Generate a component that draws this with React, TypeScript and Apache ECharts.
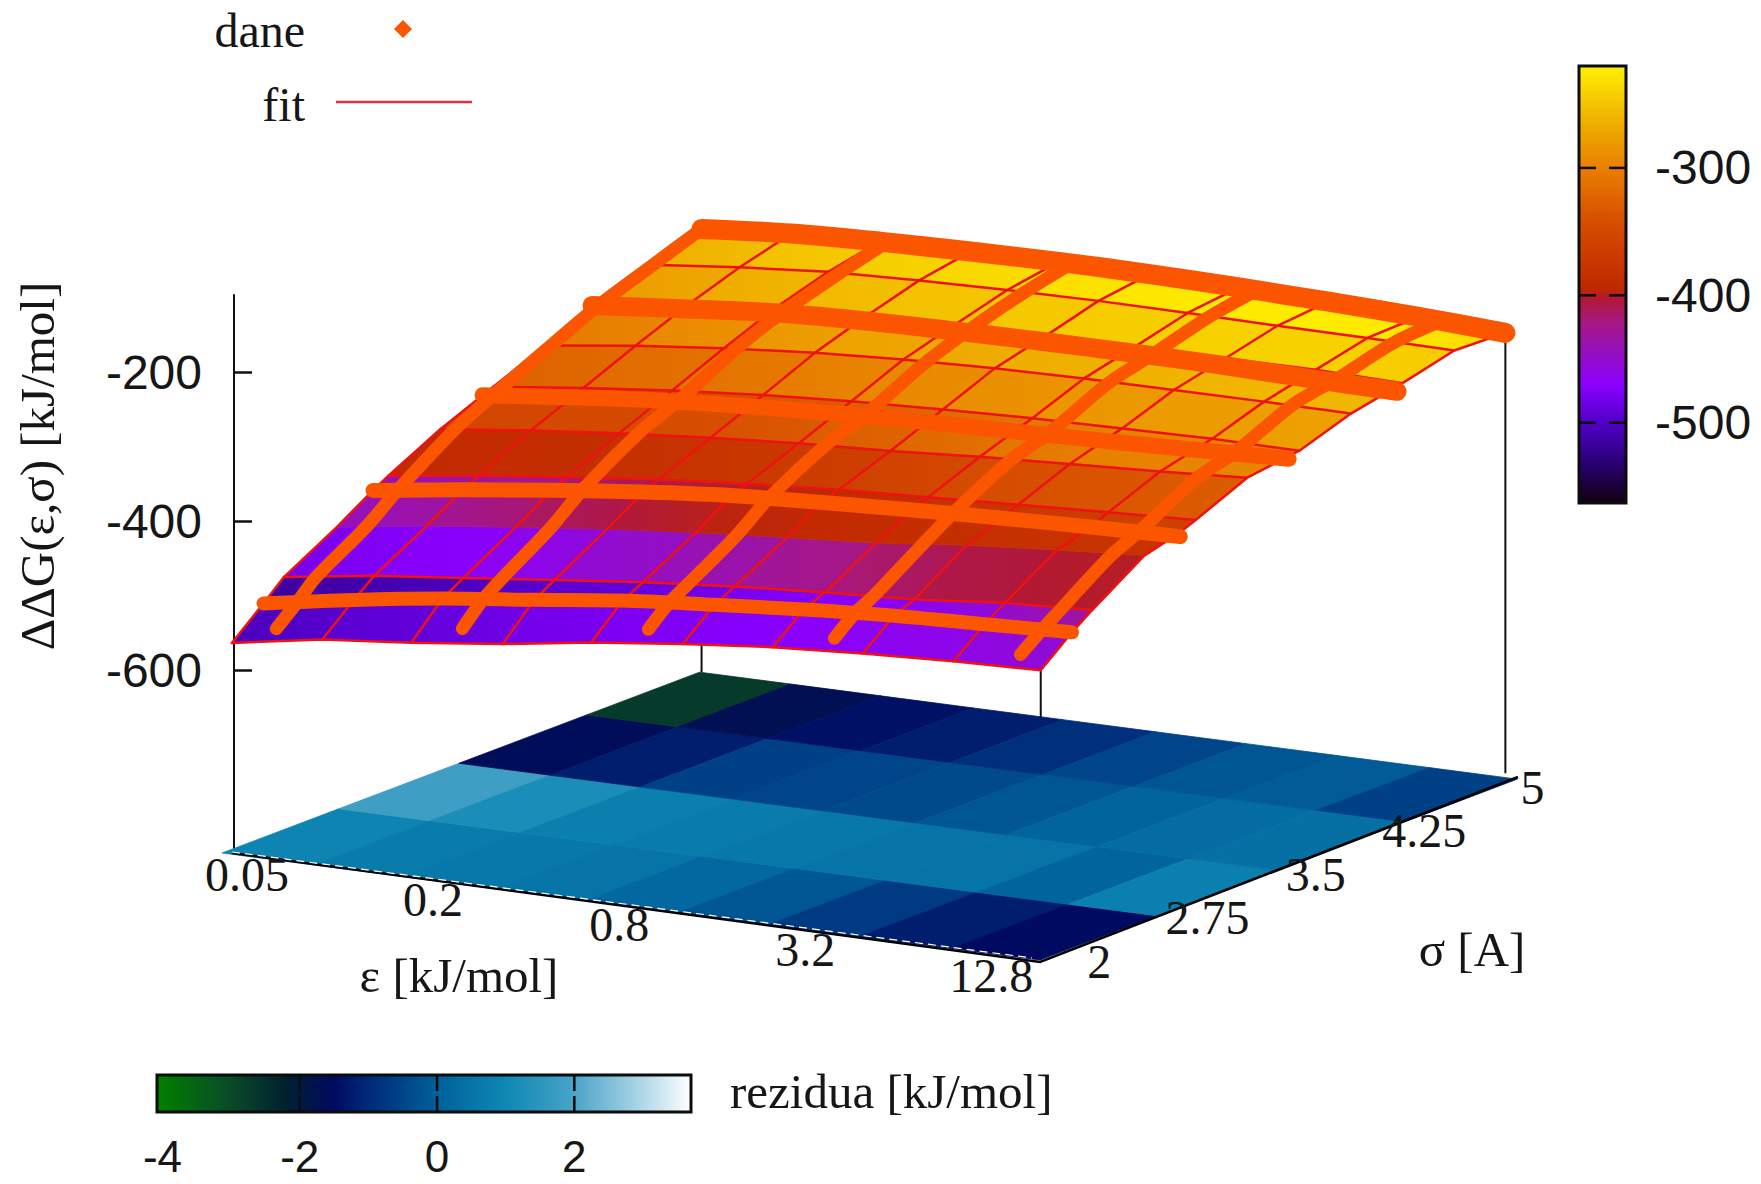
import React, { useEffect, useRef } from "react";
import * as echarts from "echarts";

// ---------- data ----------
const epsTicks = [0.05, 0.2, 0.8, 3.2, 12.8];
const epsTickLabels = ["0.05", "0.2", "0.8", "3.2", "12.8"];
const sigmaTicks = [2, 2.75, 3.5, 4.25, 5];
const sigmaTickLabels = ["2", "2.75", "3.5", "4.25", "5"];
const zTicks = [-600, -400, -200];
const paletteTicks = [-500, -400, -300];
const residTicks = [-4, -2, 0, 2];

// fit surface: ε isolines, σ rows (two rows extra where the colour changes)
const fitEps = [0.05, 0.098, 0.19, 0.376, 0.727, 1.44, 2.81, 5.5, 10.8, 20.7];
const fitSigma = [1.784, 2, 2.14, 2.5, 2.75, 2.856, 3.213, 3.574, 3.931, 4.288, 4.646, 5];
const fitRedRows = [0, 2, 5, 6, 7, 8, 9, 10, 11];
const fitZ = [
  [-563, -542, -530, -515, -497, -482, -470, -462, -456, -452],
  [-526, -505, -487, -472, -457, -446, -436, -428, -423, -418],
  [-501, -483, -470, -456, -443, -432, -424, -417, -405, -399],
  [-461, -443, -429, -415, -404, -394, -385, -372, -362, -354],
  [-430, -413, -398, -384, -373, -364, -358, -354, -348, -342],
  [-418, -402, -388, -375, -365, -357, -351, -345, -339, -334],
  [-382, -368, -356, -346, -338, -332, -324, -318, -312, -305],
  [-352, -338, -326, -316, -309, -304, -300, -298, -296, -297],
  [-323, -308, -296, -286, -280, -276, -274, -274, -274, -275],
  [-292, -280, -268, -263, -260, -259, -258, -259, -259, -262],
  [-268, -256, -247, -243, -241, -240, -241, -243, -244, -246],
  [-246, -237, -233, -231, -230, -231, -234, -238, -243, -250],
];
// palette value seen in each band between two σ rows
const surfaceShade = [
  [-505, -495, -490, -482, -478, -474, -470, -465, -460, -452],
  [-515, -510, -505, -495, -490, -480, -472, -465, -455, -430],
  [-480, -472, -468, -455, -445, -432, -420, -408, -403, -400],
  [-445, -430, -415, -405, -398, -392, -388, -384, -380, -378],
  [-445, -430, -420, -408, -400, -392, -385, -375, -365, -360],
  [-392, -388, -385, -380, -372, -362, -350, -340, -335, -330],
  [-355, -350, -348, -340, -330, -322, -310, -300, -298, -295],
  [-325, -318, -312, -305, -295, -290, -285, -280, -278, -275],
  [-305, -295, -285, -275, -270, -265, -262, -260, -258, -258],
  [-280, -268, -258, -252, -248, -245, -242, -240, -240, -245],
  [-265, -252, -245, -238, -232, -228, -224, -222, -224, -235],
];

// data points: lines along ε (one per σ)
const dataSigma = [2, 2.75, 3.5, 4.25, 5];
const dataAlongEps = [
  [-526, -505, -487, -472, -457, -446, -436, -428, -423, -418],
  [-430, -413, -398, -384, -373, -366, -360, -355, -351, -348],
  [-358, -345, -334, -326, -320, -316, -313, -310, -306, -302],
  [-293, -282, -272, -267, -265, -264, -264, -265, -268, -270],
  [-246, -237, -233, -231, -230, -231, -234, -238, -243, -250],
];
const dataLineWidth = [14, 15, 16, 19, 20];
// data points: lines along σ (one per ε)
const dataLineSigma = [1.855, 2, 2.14, 2.5, 2.75, 3.21, 3.5, 3.93, 4.25, 4.65, 5];
const dataLineDrift = [0.042, 0.042, 0.04, 0.036, 0.03, 0.018, 0.014, 0.009, 0.007, 0.003, 0];
const dataAlongSigma = [
  [-543, -518, -495, -456, -426, -380, -355, -320, -293, -268, -246],
  [-509, -480, -463, -422, -391, -350, -330, -292, -269, -249, -233],
  [-476, -451, -437, -399, -370, -335, -318, -283, -262, -243, -230],
  [-454, -431, -419, -378, -355, -322, -308, -276, -262, -244, -235],
  [-442, -421, -405, -363, -347, -314, -302, -272, -262, -247, -245],
];

// residuals on the floor
const floorSigma = [1.784, 2.57, 3.38, 4.24, 5];
const floorResid = [
  [0.9, 0.7, 0.6, 0.5, 0.2, -0.2, -0.7, -1.2, -1.5],
  [1.8, 1.2, 0.8, 0.7, 0.6, 0.5, 0.5, 0.1, 0.8],
  [-1.6, -1.2, -0.6, -0.5, -0.4, -0.2, 0.1, 0.3, 0.4],
  [-2.7, -1.7, -1.4, -1.2, -0.9, -0.5, -0.2, -0.1, -0.6],
];

const zPalette: [number, string][] = [
  [-563, "#100010"], [-530, "#2a0078"], [-500, "#5000c8"], [-470, "#8a00ff"],
  [-445, "#9410c0"], [-420, "#a81880"], [-403, "#b01838"], [-395, "#c02800"],
  [-340, "#d85000"], [-300, "#e88000"], [-260, "#f0b400"], [-220, "#fff000"],
];
const residPalette: [number, string][] = [
  [-4.08, "#008000"], [-3, "#0a4a28"], [-2.2, "#002030"], [-1.5, "#000a60"], [-1, "#002a78"],
  [0, "#00609a"], [1, "#0e88b4"], [2, "#4aa4c8"], [3, "#b0d8e8"], [3.7, "#ffffff"],
];

// ---------- helpers ----------
const RED = "#ee1212";
const ORANGE = "#fb5500";
const Z_MIN = -841;
const Z_MAX = -96;
const Z_PX = 555 / (Z_MAX - Z_MIN);
const SERIF = '"Liberation Serif"';

const uOf = (eps: number) => (Math.log(eps / 0.05) / Math.log(4)) * 0.23;
const tOf = (sigma: number) => 0.067 + 0.3107 * (sigma - 2);

function projectXY(u: number, t: number, z: number): [number, number] {
  return [
    232 + 809 * u + 470 * t - 5 * u * t,
    850 + 110 * u - 178 * t - 9 * u * t - (z - Z_MIN) * Z_PX,
  ];
}
function floorXY(u: number, t: number): [number, number] {
  return [222 + 818 * u + 478 * t, 853 + 107 * u - 181 * t];
}
function hex(c: string) {
  return [1, 3, 5].map((i) => parseInt(c.slice(i, i + 2), 16));
}
function colorAt(pal: [number, string][], v: number) {
  if (v <= pal[0][0]) return pal[0][1];
  for (let i = 1; i < pal.length; i++) {
    if (v <= pal[i][0]) {
      const f = (v - pal[i - 1][0]) / (pal[i][0] - pal[i - 1][0]);
      const a = hex(pal[i - 1][1]);
      const b = hex(pal[i][1]);
      return `rgb(${a.map((x, k) => Math.round(x + (b[k] - x) * f)).join(",")})`;
    }
  }
  return pal[pal.length - 1][1];
}
const text = (x: number, y: number, t: string, font: string, align = "center", rotation = 0) => ({
  type: "text",
  x,
  y,
  rotation,
  z: 20,
  style: { text: t, font, fill: "#161616", align, verticalAlign: "middle" },
});

function pageSeries(name: string, data: any[], renderItem: any) {
  return {
    type: "custom",
    name,
    coordinateSystem: "cartesian2d",
    xAxisIndex: 0,
    yAxisIndex: 0,
    clip: false,
    silent: true,
    data,
    renderItem,
  };
}
const polyline = (pts: number[][], stroke: string, lineWidth: number, smooth = 0) => ({
  type: "polyline",
  shape: { points: pts, smooth },
  style: { stroke, lineWidth, fill: null, lineCap: "round", lineJoin: "round" },
});

function buildOption() {
  const us = fitEps.map(uOf);
  const ts = fitSigma.map(tOf);

  const series: any[] = [];

  // vertical corner lines, behind floor and surface
  const corners = [
    [9, 0],
    [0, 11],
    [9, 11],
  ];
  series.push(
    pageSeries("corner lines", corners, (p: any, api: any) => {
      const [c, r] = corners[p.dataIndex];
      return {
        type: "polyline",
        shape: { points: [projectXY(us[c], ts[r], fitZ[r][c]), projectXY(us[c], ts[r], Z_MIN)].map((q) => api.coord(q)) },
        style: { stroke: "#111", lineWidth: 2, fill: null },
      };
    })
  );

  // floor: residual map
  const floorCells: number[][] = [];
  floorResid.forEach((row, r) =>
    row.forEach((v, c) => floorCells.push([fitEps[c], fitEps[c + 1], floorSigma[r], floorSigma[r + 1], v]))
  );
  series.push(
    pageSeries("rezidua", floorCells, (_p: any, api: any) => {
      const u0 = uOf(api.value(0));
      const u1 = uOf(api.value(1));
      const t0 = tOf(api.value(2));
      const t1 = tOf(api.value(3));
      const col = colorAt(residPalette, api.value(4));
      const pts = [floorXY(u0, t0), floorXY(u1, t0), floorXY(u1, t1), floorXY(u0, t1)].map((q) => api.coord(q));
      return { type: "polygon", shape: { points: pts }, style: { fill: col, stroke: col, lineWidth: 0.8 } };
    })
  );

  // front axis edges of the base
  series.push(
    pageSeries("base edges", [0], (_p: any, api: any) => ({
      type: "group",
      children: [
        {
          type: "polyline",
          shape: { points: [[232, 853], [1040, 962], [1518, 777]].map((q) => api.coord(q)) },
          style: { stroke: "#000", lineWidth: 2.6, fill: null },
        },
        {
          type: "polyline",
          shape: { points: [[232, 852], [1032, 958]].map((q) => api.coord(q)) },
          style: { stroke: "#fff", lineWidth: 1.2, fill: null, lineDash: [8, 5] },
        },
      ],
    }))
  );

  // surface cells
  const surfCells: number[][] = [];
  for (let r = 0; r < fitSigma.length - 1; r++) for (let c = 0; c < fitEps.length - 1; c++) surfCells.push([c, r]);
  series.push(
    pageSeries("surface", surfCells, (p: any, api: any) => {
      const [c, r] = surfCells[p.dataIndex];
      const pts = [
        projectXY(us[c], ts[r], fitZ[r][c]),
        projectXY(us[c + 1], ts[r], fitZ[r][c + 1]),
        projectXY(us[c + 1], ts[r + 1], fitZ[r + 1][c + 1]),
        projectXY(us[c], ts[r + 1], fitZ[r + 1][c]),
      ].map((q) => api.coord(q));
      const g = new echarts.graphic.LinearGradient(0, 0, 1, 0, [
        { offset: 0, color: colorAt(zPalette, surfaceShade[r][c]) },
        { offset: 1, color: colorAt(zPalette, surfaceShade[r][c + 1]) },
      ]);
      return { type: "polygon", shape: { points: pts }, style: { fill: g, stroke: g, lineWidth: 0.8 } };
    })
  );

  // fit lines
  series.push(
    pageSeries("fit", [...fitRedRows.map((r) => [0, r]), ...fitEps.map((_, c) => [1, c])], (_p: any, api: any) => {
      const kind = api.value(0);
      const k = api.value(1);
      const pts =
        kind === 0
          ? fitEps.map((_, c) => projectXY(us[c], ts[k], fitZ[k][c]))
          : fitSigma.map((_, r) => projectXY(us[k], ts[r], fitZ[r][k]));
      return polyline(pts.map((q) => api.coord(q)), RED, 2.5);
    })
  );

  // data: lines along σ, then along ε
  series.push(
    pageSeries("dane σ", dataAlongSigma.map((_, i) => [i]), (p: any, api: any) => {
      const i = p.dataIndex;
      const pts = dataLineSigma.map((s, k) =>
        projectXY(uOf(epsTicks[i]) + dataLineDrift[k], tOf(s), dataAlongSigma[i][k])
      );
      return polyline(pts.map((q) => api.coord(q)), ORANGE, 13, 0.3);
    })
  );
  series.push(
    pageSeries("dane ε", dataAlongEps.map((_, i) => [i]), (p: any, api: any) => {
      const i = p.dataIndex;
      const pts = fitEps.map((_, c) => projectXY(us[c], tOf(dataSigma[i]), dataAlongEps[i][c]));
      return polyline(pts.map((q) => api.coord(q)), ORANGE, dataLineWidth[i], 0.3);
    })
  );

  // colour boxes: gradient, frame and the tick dashes, placed through their axes
  const zMinBar = -563;
  const zMaxBar = -220;
  const dash = (x1: number, y1: number, x2: number, y2: number) => ({
    type: "line",
    shape: { x1, y1, x2, y2 },
    style: { stroke: "#0c0c0c", lineWidth: 2.5 },
  });
  series.push({
    type: "custom",
    name: "paleta",
    xAxisIndex: 2,
    yAxisIndex: 2,
    coordinateSystem: "cartesian2d",
    silent: true,
    clip: false,
    data: [[0, zMinBar]],
    renderItem: (_p: any, api: any) => {
      const a = api.coord([0, zMaxBar]);
      const b = api.coord([1, zMinBar]);
      const ticks: any[] = [];
      paletteTicks.forEach((v) => {
        const y = api.coord([0, v])[1];
        ticks.push(dash(a[0], y, a[0] + 17, y), dash(b[0] - 17, y, b[0], y));
      });
      return {
        type: "group",
        children: [
          {
            type: "rect",
            shape: { x: a[0], y: a[1], width: b[0] - a[0], height: b[1] - a[1] },
            style: {
              stroke: "#0c0c0c",
              lineWidth: 3,
              fill: new echarts.graphic.LinearGradient(
                0,
                0,
                0,
                1,
                [...zPalette].reverse().map(([v, color]) => ({ offset: (zMaxBar - v) / (zMaxBar - zMinBar), color }))
              ),
            },
          },
          ...ticks,
        ],
      };
    },
  });
  const rMin = -4.08;
  const rMax = 3.7;
  series.push({
    type: "custom",
    name: "paleta rezidua",
    xAxisIndex: 3,
    yAxisIndex: 3,
    coordinateSystem: "cartesian2d",
    silent: true,
    clip: false,
    data: [[rMin, 0]],
    renderItem: (_p: any, api: any) => {
      const a = api.coord([rMin, 1]);
      const b = api.coord([rMax, 0]);
      const ticks: any[] = [];
      residTicks.slice(1).forEach((v) => {
        const x = api.coord([v, 0])[0];
        ticks.push(dash(x, a[1], x, a[1] + 16), dash(x, b[1] - 16, x, b[1]));
      });
      return {
        type: "group",
        children: [
          {
            type: "rect",
            shape: { x: a[0], y: a[1], width: b[0] - a[0], height: b[1] - a[1] },
            style: {
              stroke: "#0c0c0c",
              lineWidth: 3,
              fill: new echarts.graphic.LinearGradient(
                0,
                0,
                1,
                0,
                residPalette.map(([v, color]) => ({ offset: (v - rMin) / (rMax - rMin), color }))
              ),
            },
          },
          ...ticks,
        ],
      };
    },
  });

  const hiddenAxis = (gridIndex: number, min: number, max: number, extra: any = {}) => ({
    type: "value",
    gridIndex,
    min,
    max,
    show: false,
    ...extra,
  });

  const graphicEls: any[] = [
    text(305, 30, "dane", `48px ${SERIF}`, "right"),
    text(305, 104, "fit", `48px ${SERIF}`, "right"),
    {
      type: "polygon",
      z: 20,
      shape: { points: [[403, 20], [412, 29], [403, 38], [394, 29]] },
      style: { fill: ORANGE },
    },
    {
      type: "line",
      z: 20,
      shape: { x1: 336, y1: 102, x2: 472, y2: 102 },
      style: { stroke: "#e2304a", lineWidth: 2.6 },
    },
    text(37, 466, "ΔΔG(ε,σ) [kJ/mol]", `49px ${SERIF}`, "center", Math.PI / 2),
    text(459, 975, "ε [kJ/mol]", `49px ${SERIF}`),
    text(1472, 949, "σ [A]", `49px ${SERIF}`),
    text(730, 1091, "rezidua [kJ/mol]", `49px ${SERIF}`, "left"),
  ];
  epsTicks.forEach((e, i) => {
    const [x, y] = projectXY(uOf(e), 0, Z_MIN);
    graphicEls.push(text(x + 15, y + 24, epsTickLabels[i], `48px ${SERIF}`));
  });
  sigmaTicks.forEach((s, i) => {
    const [x, y] = projectXY(1, tOf(s), Z_MIN);
    graphicEls.push(text(x + 27, y + 14, sigmaTickLabels[i], `48px ${SERIF}`));
  });

  return {
    animation: false,
    backgroundColor: "#ffffff",
    grid: [
      { left: 0, top: 0, width: 1761, height: 1184 },
      { left: 234, top: 295, width: 1, height: 555 },
      { left: 1579, top: 66, width: 47, height: 437 },
      { left: 157, top: 1075, width: 534, height: 37 },
    ],
    xAxis: [
      hiddenAxis(0, 0, 1761),
      hiddenAxis(1, 0, 1),
      hiddenAxis(2, 0, 1),
      {
        type: "value",
        gridIndex: 3,
        position: "bottom",
        min: rMin,
        max: rMax,
        axisLine: { show: false },
        splitLine: { show: false },
        axisTick: { show: false },
        axisLabel: {
          show: true,
          customValues: residTicks,
          margin: 24,
          color: "#161616",
          fontFamily: "Liberation Sans",
          fontSize: 44,
          lineHeight: 40,
        },
      },
    ],
    yAxis: [
      hiddenAxis(0, 0, 1184, { inverse: true }),
      {
        type: "value",
        gridIndex: 1,
        position: "left",
        min: Z_MIN,
        max: Z_MAX,
        axisLine: { show: true, onZero: false, lineStyle: { color: "#111", width: 2 } },
        splitLine: { show: false },
        axisTick: { show: true, inside: true, length: 18, customValues: zTicks, lineStyle: { color: "#111", width: 2.5 } },
        axisLabel: {
          show: true,
          customValues: zTicks,
          margin: 32,
          color: "#161616",
          fontFamily: "Liberation Sans",
          fontSize: 48,
        },
      },
      {
        type: "value",
        gridIndex: 2,
        position: "right",
        min: zMinBar,
        max: zMaxBar,
        axisLine: { show: false },
        splitLine: { show: false },
        axisTick: { show: false },
        axisLabel: {
          show: true,
          customValues: paletteTicks,
          margin: 29,
          color: "#161616",
          fontFamily: "Liberation Sans",
          fontSize: 48,
        },
      },
      hiddenAxis(3, 0, 1),
    ],
    series,
    graphic: { elements: graphicEls },
  };
}

export default function App() {
  const ref = useRef<HTMLDivElement>(null);
  useEffect(() => {
    const chart = echarts.init(ref.current!, undefined, { renderer: "svg" });
    chart.setOption(buildOption() as any);
    return () => chart.dispose();
  }, []);
  return <div ref={ref} style={{ position: "absolute", left: 0, top: 0, width: 1761, height: 1184 }} />;
}
